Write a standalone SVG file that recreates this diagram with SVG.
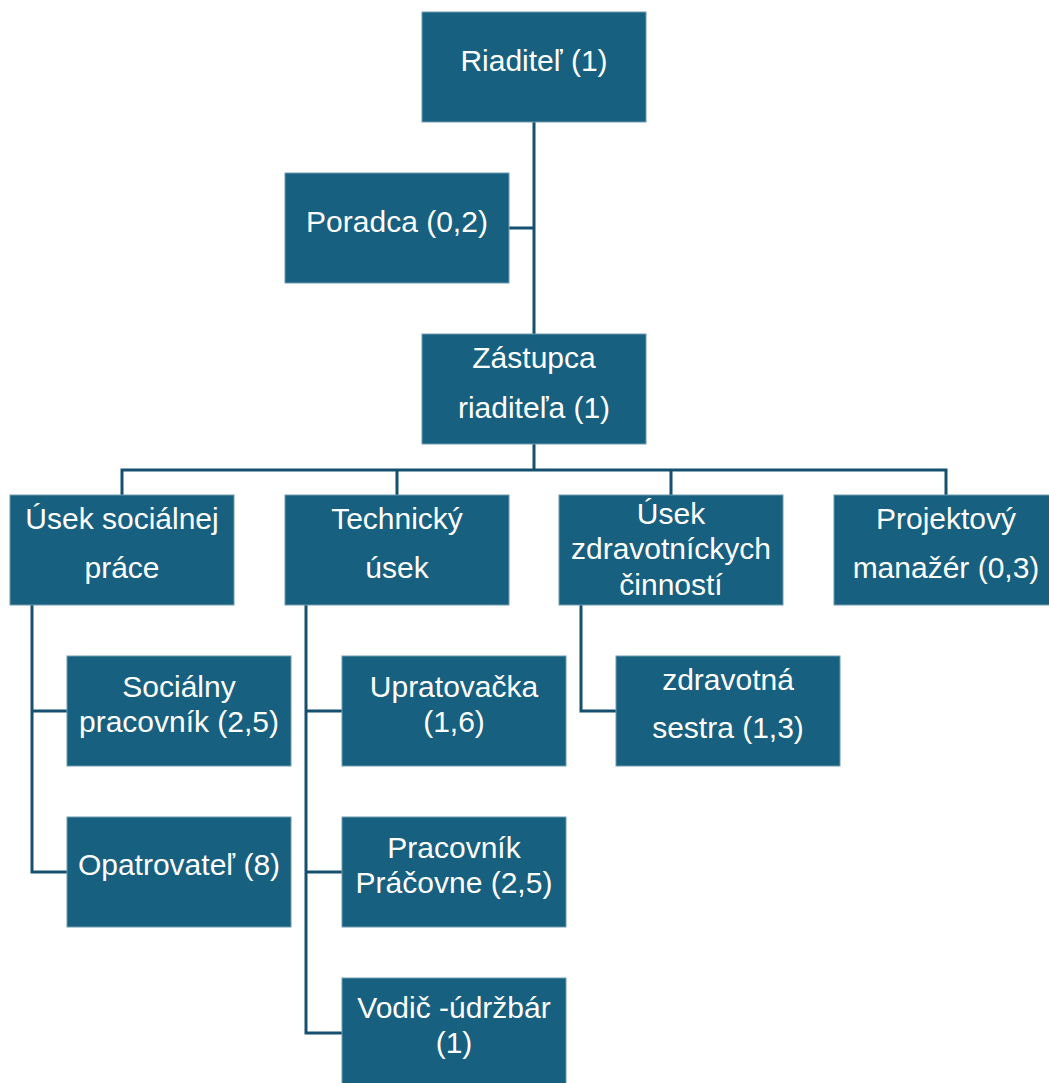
<svg xmlns="http://www.w3.org/2000/svg" width="1049" height="1083" viewBox="0 0 1049 1083">
<style>
.box{fill:#18607f;stroke:#6f9bb1;stroke-width:1}
.t{font-family:"Liberation Sans",Arial,sans-serif;font-size:30px;fill:#ffffff;text-anchor:middle}
.c{fill:none;stroke:#15506e;stroke-width:3}
</style>
<rect width="1049" height="1083" fill="#ffffff"/>
<g id="connectors">
<path class="c" d="M534,122V334M509,228H534"/>
<path class="c" d="M534,444V470M122,495V470H946V495M397,470V495M671,470V495"/>
<path class="c" d="M32,605V872H67M32,711H67"/>
<path class="c" d="M306,605V1033H342M306,711H342M306,872H342"/>
<path class="c" d="M581,605V711H616"/>
</g>
<g id="riaditel"><rect class="box" x="422" y="12" width="224" height="110"/><text class="t" x="534" y="71">Riaditeľ (1)</text></g>
<g id="poradca"><rect class="box" x="285" y="173" width="224" height="110"/><text class="t" x="397" y="232">Poradca (0,2)</text></g>
<g id="zastupca"><rect class="box" x="422" y="334" width="224" height="110"/><text class="t" x="534" y="368">Zástupca</text><text class="t" x="534" y="418">riaditeľa (1)</text></g>
<g id="usek-socialnej"><rect class="box" x="10" y="495" width="224" height="110"/><text class="t" x="122" y="529">Úsek sociálnej</text><text class="t" x="122" y="578">práce</text></g>
<g id="technicky"><rect class="box" x="285" y="495" width="224" height="110"/><text class="t" x="397" y="529">Technický</text><text class="t" x="397" y="578">úsek</text></g>
<g id="usek-zdrav"><rect class="box" x="559" y="495" width="224" height="110"/><text class="t" x="671" y="524">Úsek</text><text class="t" x="671" y="559">zdravotníckych</text><text class="t" x="671" y="595">činností</text></g>
<g id="projektovy"><rect class="box" x="834" y="495" width="224" height="110"/><text class="t" x="946" y="529">Projektový</text><text class="t" x="946" y="578">manažér (0,3)</text></g>
<g id="socialny"><rect class="box" x="67" y="656" width="224" height="110"/><text class="t" x="179" y="697">Sociálny</text><text class="t" x="179" y="732">pracovník (2,5)</text></g>
<g id="opatrovatel"><rect class="box" x="67" y="817" width="224" height="110"/><text class="t" x="179" y="875">Opatrovateľ (8)</text></g>
<g id="upratovacka"><rect class="box" x="342" y="656" width="224" height="110"/><text class="t" x="454" y="697">Upratovačka</text><text class="t" x="454" y="732">(1,6)</text></g>
<g id="pracovnik"><rect class="box" x="342" y="817" width="224" height="110"/><text class="t" x="454" y="858">Pracovník</text><text class="t" x="454" y="893">Práčovne (2,5)</text></g>
<g id="vodic"><rect class="box" x="342" y="978" width="224" height="110"/><text class="t" x="454" y="1018">Vodič -údržbár</text><text class="t" x="454" y="1053">(1)</text></g>
<g id="zdravotna"><rect class="box" x="616" y="656" width="224" height="110"/><text class="t" x="728" y="690">zdravotná</text><text class="t" x="728" y="738">sestra (1,3)</text></g>
</svg>
